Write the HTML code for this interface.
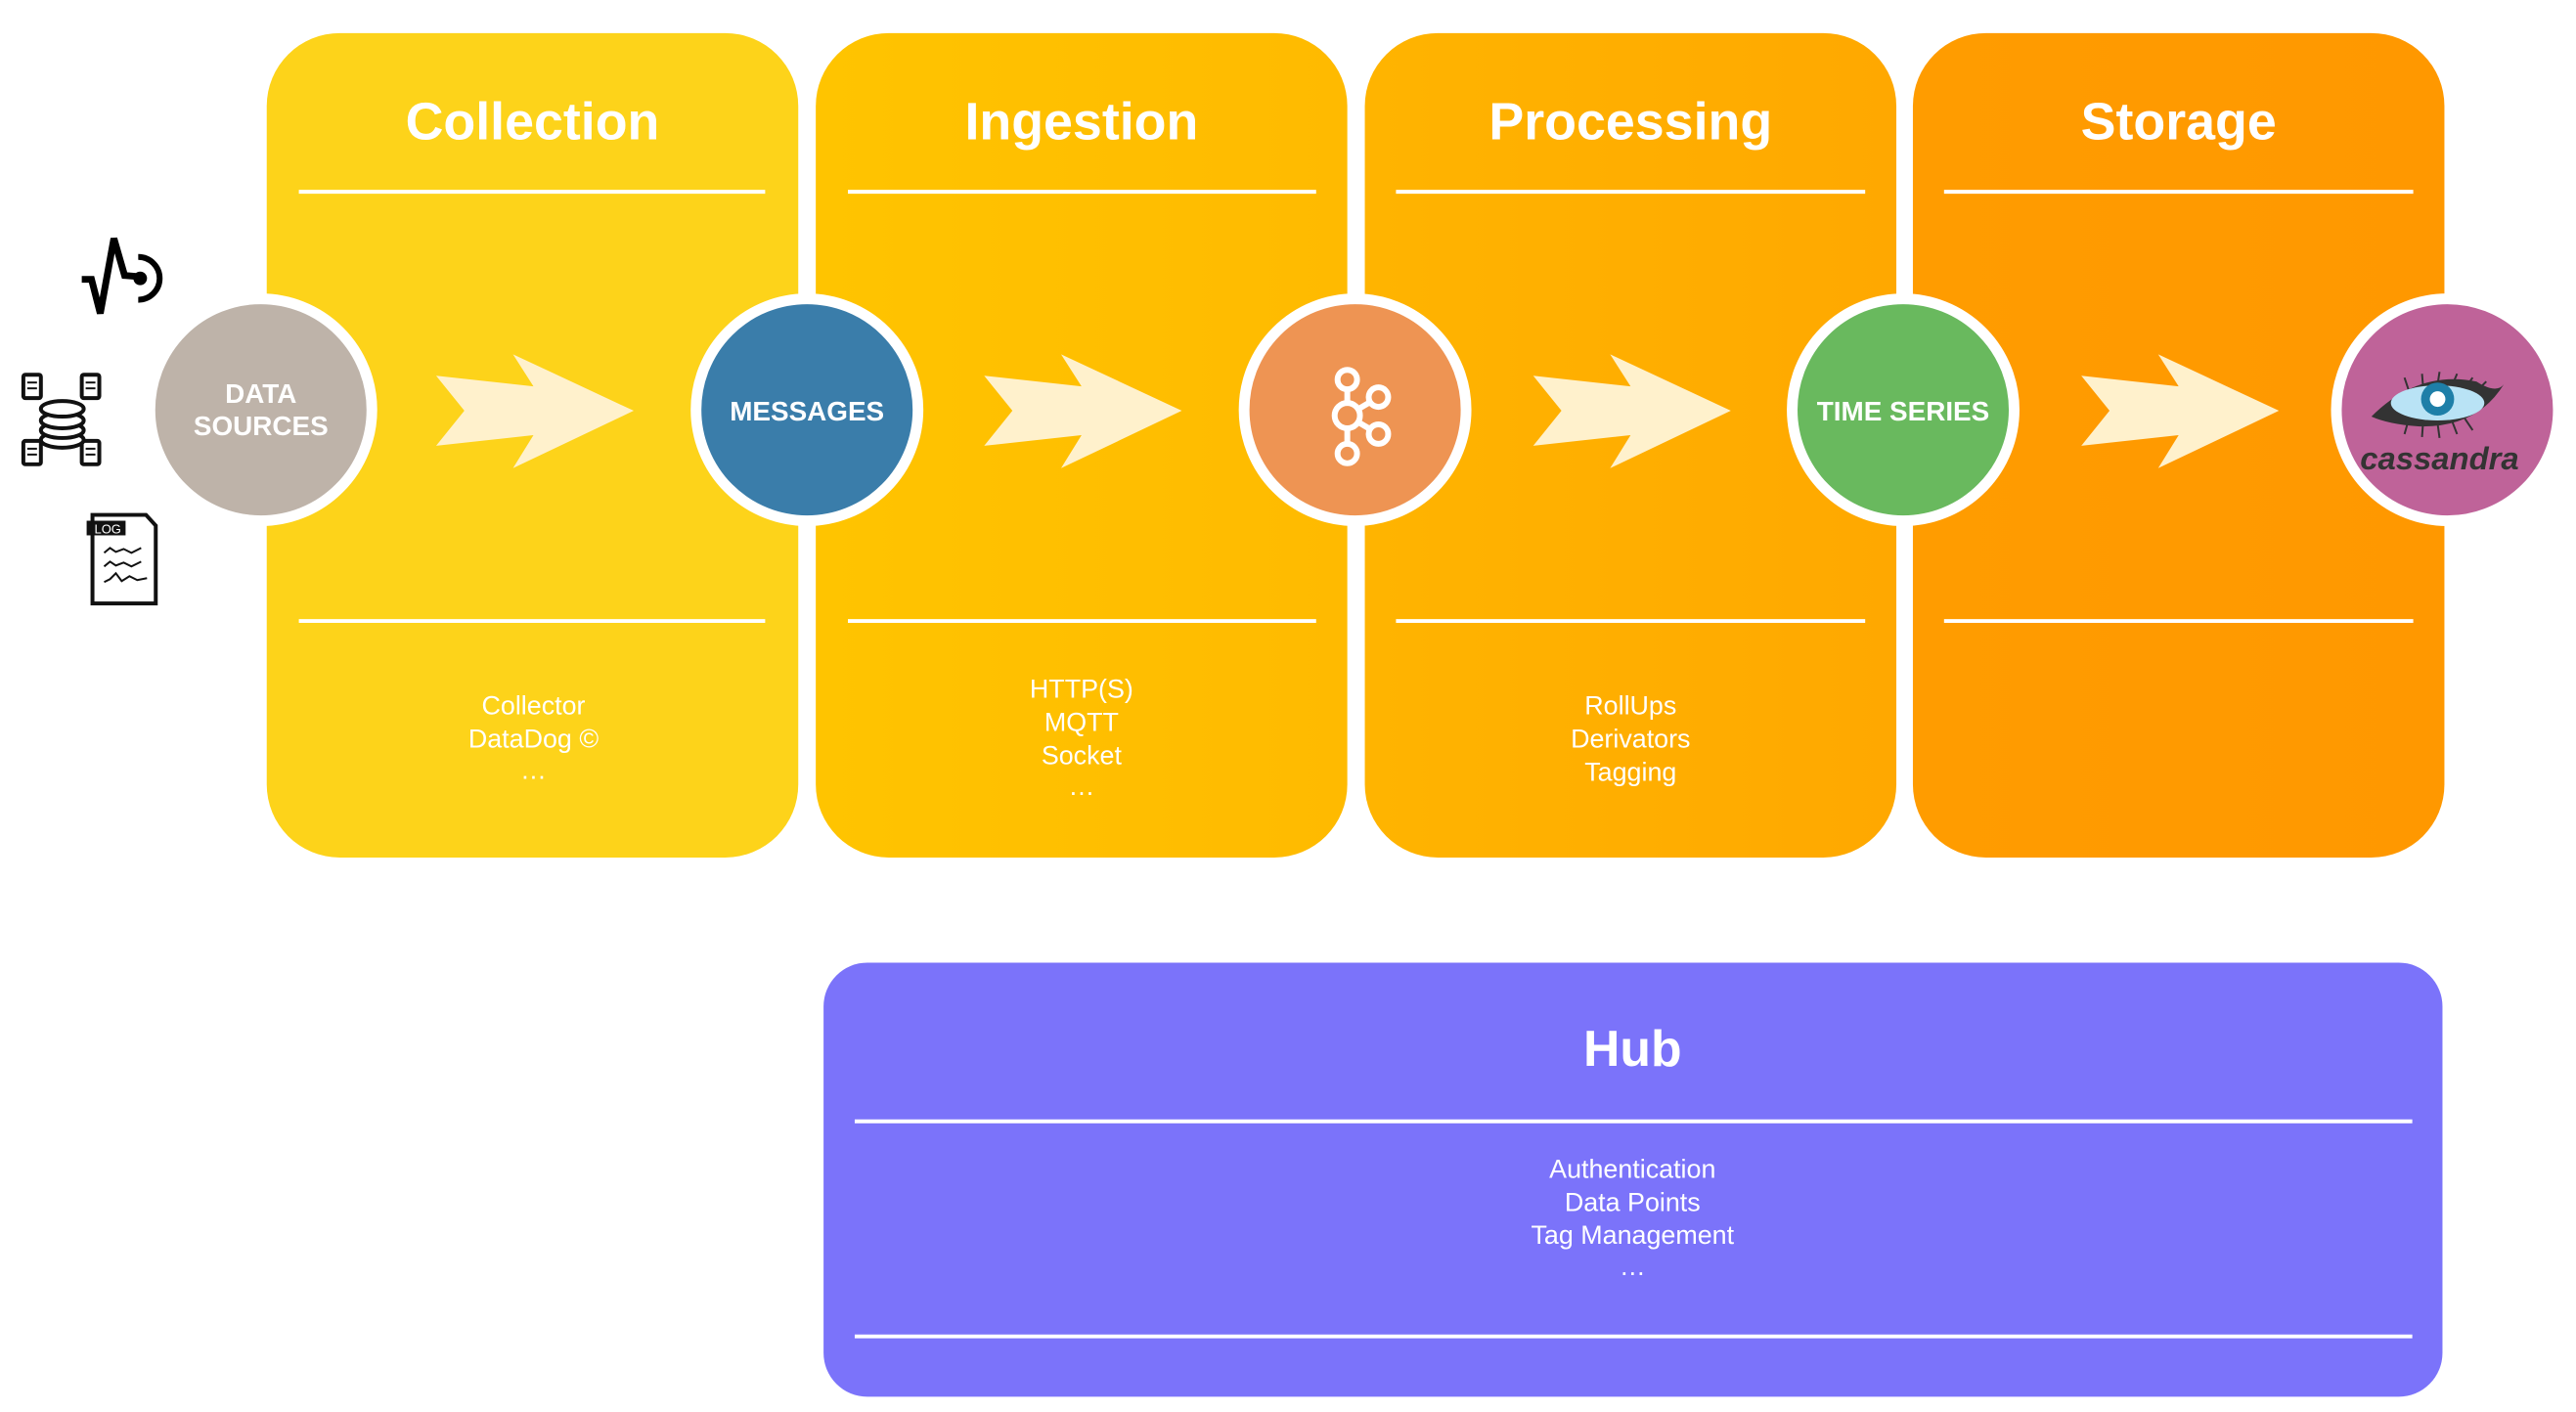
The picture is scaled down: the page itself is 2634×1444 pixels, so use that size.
<!DOCTYPE html>
<html><head><meta charset="utf-8"><style>
html,body{margin:0;padding:0;background:#fff;}
svg{display:block;}
text{font-family:"Liberation Sans",sans-serif;}
</style></head><body>
<svg width="2634" height="1444" viewBox="0 0 2634 1444" xmlns="http://www.w3.org/2000/svg">
<defs>
<linearGradient id="g2" x1="0" x2="1"><stop offset="0" stop-color="#FFC400"/><stop offset="1" stop-color="#FFBA00"/></linearGradient>
<linearGradient id="g3" x1="0" x2="1"><stop offset="0" stop-color="#FFB400"/><stop offset="1" stop-color="#FFA800"/></linearGradient>
<linearGradient id="g4" x1="0" x2="1"><stop offset="0" stop-color="#FF9C00"/><stop offset="1" stop-color="#FF9800"/></linearGradient>
</defs>
<g transform="scale(0.9954)">
<rect x="274" y="34" width="546" height="847" rx="75" fill="#FDD31A"/>
<rect x="838" y="34" width="546" height="847" rx="75" fill="url(#g2)"/>
<rect x="1402" y="34" width="546" height="847" rx="75" fill="url(#g3)"/>
<rect x="1965" y="34" width="546" height="847" rx="75" fill="url(#g4)"/>
<g fill="#fff" font-weight="bold" font-size="54" text-anchor="middle">
<text x="547" y="143">Collection</text>
<text x="1111" y="143">Ingestion</text>
<text x="1675" y="143">Processing</text>
<text x="2238" y="143">Storage</text>
</g>
<g stroke="#fff" stroke-width="4">
<line x1="307" y1="197" x2="786" y2="197"/><line x1="307" y1="638" x2="786" y2="638"/>
<line x1="871" y1="197" x2="1352" y2="197"/><line x1="871" y1="638" x2="1352" y2="638"/>
<line x1="1434" y1="197" x2="1916" y2="197"/><line x1="1434" y1="638" x2="1916" y2="638"/>
<line x1="1997" y1="197" x2="2479" y2="197"/><line x1="1997" y1="638" x2="2479" y2="638"/>
</g>
<g fill="#fff" font-size="27" text-anchor="middle">
<text x="548" y="734">Collector</text><text x="548" y="768">DataDog ©</text><text x="548" y="800">…</text>
<text x="1111" y="717">HTTP(S)</text><text x="1111" y="751">MQTT</text><text x="1111" y="785">Socket</text><text x="1111" y="817">…</text>
<text x="1675" y="734">RollUps</text><text x="1675" y="768">Derivators</text><text x="1675" y="802">Tagging</text>
</g>
<g fill="#FFF1CC">
<path d="M448,386 L548,397 L527,364 L651,422 L527,481 L548,447 L448,458 L477,422 Z"/>
<path d="M1011,386 L1111,397 L1090,364 L1214,422 L1090,481 L1111,447 L1011,458 L1040,422 Z"/>
<path d="M1575,386 L1675,397 L1654,364 L1778,422 L1654,481 L1675,447 L1575,458 L1604,422 Z"/>
<path d="M2138,386 L2238,397 L2217,364 L2341,422 L2217,481 L2238,447 L2138,458 L2167,422 Z"/>
</g>
<g stroke="#fff" stroke-width="11">
<circle cx="268" cy="421" r="114" fill="#BEB3A9"/>
<circle cx="829" cy="421" r="114" fill="#3A7DAA"/>
<circle cx="1392" cy="421" r="114" fill="#EE9453"/>
<circle cx="1955" cy="421" r="114" fill="#69B95E"/>
<circle cx="2514" cy="421" r="114" fill="#BF6399"/>
</g>
<g fill="#fff" font-weight="bold" text-anchor="middle">
<text x="268" y="414" font-size="28">DATA</text>
<text x="268" y="447" font-size="28">SOURCES</text>
<text x="829" y="432" font-size="28">MESSAGES</text>
<text x="1955" y="432" font-size="28">TIME SERIES</text>
</g>
<g stroke="#fff" stroke-width="6" fill="none" transform="translate(6,0)">
<line x1="1378" y1="400" x2="1378" y2="456"/>
<line x1="1378" y1="427" x2="1410" y2="408"/>
<line x1="1378" y1="427" x2="1410" y2="446"/>
<circle cx="1378" cy="427" r="13" fill="#EE9453"/>
<circle cx="1378" cy="390" r="10" fill="#EE9453"/>
<circle cx="1378" cy="466" r="10" fill="#EE9453"/>
<circle cx="1410" cy="408" r="10" fill="#EE9453"/>
<circle cx="1410" cy="446" r="10" fill="#EE9453"/>
</g>
<g transform="translate(4,0)">
<g stroke="#333" stroke-width="2">
<line x1="2470" y1="400" x2="2466" y2="388"/><line x1="2485" y1="396" x2="2484" y2="384"/><line x1="2500" y1="395" x2="2502" y2="382"/><line x1="2515" y1="396" x2="2520" y2="384"/><line x1="2528" y1="399" x2="2536" y2="388"/><line x1="2540" y1="402" x2="2550" y2="392"/>
<line x1="2470" y1="432" x2="2466" y2="446"/><line x1="2485" y1="435" x2="2484" y2="449"/><line x1="2500" y1="435" x2="2502" y2="450"/><line x1="2515" y1="433" x2="2520" y2="446"/><line x1="2528" y1="430" x2="2536" y2="442"/>
</g>
<path d="M2432,428 Q2480,380 2540,392 Q2560,405 2568,395 Q2540,440 2480,438 Q2450,436 2432,428 Z" fill="#333"/>
<ellipse cx="2500" cy="414" rx="48" ry="18" fill="#B9E3F5"/>
<circle cx="2500" cy="410" r="17" fill="#1E7FA8"/>
<circle cx="2500" cy="410" r="8" fill="#fff"/>
<text x="2502" y="482" font-size="33" font-weight="bold" font-style="italic" fill="#333" text-anchor="middle" font-family="DejaVu Sans">cassandra</text>
</g>
<path d="M84,287 L94,287 L103,322 L117,245 L128,283 L140,284" fill="none" stroke="#000" stroke-width="7" stroke-linejoin="miter"/>
<circle cx="144" cy="286" r="7" fill="#000"/>
<path d="M142,264 A22,22 0 0 1 142,308" fill="none" stroke="#000" stroke-width="6"/>
<g fill="#fff" stroke="#111" stroke-width="4">
<rect x="24" y="385" width="18" height="24" rx="2"/><rect x="84" y="385" width="18" height="24" rx="2"/>
<rect x="24" y="453" width="18" height="24" rx="2"/><rect x="84" y="453" width="18" height="24" rx="2"/>
<ellipse cx="64" cy="452" rx="22" ry="8"/><ellipse cx="64" cy="442" rx="22" ry="8"/><ellipse cx="64" cy="432" rx="22" ry="8"/><ellipse cx="64" cy="420" rx="22" ry="8"/>
</g>
<g stroke="#111" stroke-width="2">
<line x1="28" y1="393" x2="38" y2="393"/><line x1="28" y1="399" x2="38" y2="399"/><line x1="88" y1="393" x2="98" y2="393"/><line x1="88" y1="399" x2="98" y2="399"/>
<line x1="28" y1="461" x2="38" y2="461"/><line x1="28" y1="467" x2="38" y2="467"/><line x1="88" y1="461" x2="98" y2="461"/><line x1="88" y1="467" x2="98" y2="467"/>
</g>
<path d="M95,529 L150,529 L160,540 L160,620 L95,620 Z" fill="#fff" stroke="#111" stroke-width="4"/>
<rect x="89" y="535" width="40" height="15" fill="#111"/>
<text x="97" y="548" font-size="13" fill="#fff">LOG</text>
<g fill="none" stroke="#111" stroke-width="2">
<path d="M107,568 l6,-5 6,4 8,-3 8,4 10,-5"/><path d="M107,582 l6,-5 6,4 8,-3 8,4 10,-5"/><path d="M107,598 l6,-3 6,-6 6,8 8,-5 8,4 10,-2"/>
</g>
<rect x="846" y="989" width="1663" height="446" rx="45" fill="#7B73FA"/>
<text x="1677" y="1095" fill="#fff" font-size="52" font-weight="bold" text-anchor="middle">Hub</text>
<line x1="878" y1="1152" x2="2478" y2="1152" stroke="#fff" stroke-width="4"/>
<line x1="878" y1="1373" x2="2478" y2="1373" stroke="#fff" stroke-width="4"/>
<g fill="#fff" font-size="27" text-anchor="middle">
<text x="1677" y="1210">Authentication</text><text x="1677" y="1244">Data Points</text><text x="1677" y="1278">Tag Management</text><text x="1677" y="1310">…</text>
</g>
</g>
</svg>
</body></html>
